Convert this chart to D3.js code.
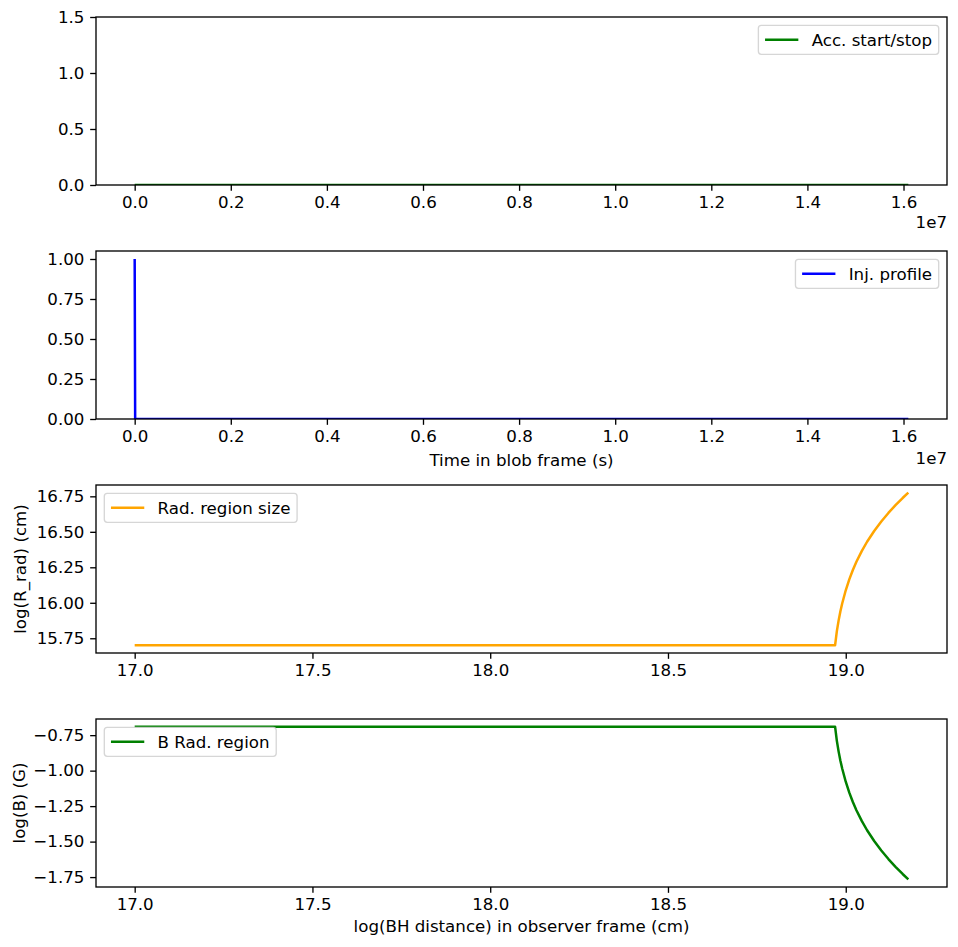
<!DOCTYPE html>
<html><head><meta charset="utf-8">
<script src="https://cdn.jsdelivr.net/npm/d3@7"></script>
<style>
body{margin:0;background:#fff}
text{font-family:"DejaVu Sans",sans-serif;fill:#000}
</style>
</head><body>
<svg id="c" width="958" height="947"></svg>
<script>
// ---- data ----
const accTime = [0, 16100000];
const accStartStop = [0, 0];

const injTime = [0, 10000, 16100000];
const injProfile = [1, 0, 0];

const logDist = [17.0, 18.97, 18.975, 18.98, 18.985, 18.99, 19.0, 19.01, 19.02, 19.03, 19.045, 19.06, 19.08, 19.10, 19.12, 19.14, 19.16, 19.176];
const logRrad = [15.70, 15.70, 15.800, 15.876, 15.940, 15.995, 16.088, 16.165, 16.231, 16.289, 16.364, 16.430, 16.506, 16.573, 16.633, 16.688, 16.738, 16.776];
const logB    = [-0.69, -0.69, -0.790, -0.866, -0.930, -0.985, -1.078, -1.155, -1.221, -1.279, -1.354, -1.420, -1.496, -1.563, -1.623, -1.678, -1.728, -1.766];

// ---- ticks ----
const timeTickVals = [0, 2e6, 4e6, 6e6, 8e6, 10e6, 12e6, 14e6, 16e6];
const timeTickLabels = ["0.0","0.2","0.4","0.6","0.8","1.0","1.2","1.4","1.6"];
const accTickVals = [0, 0.5, 1.0, 1.5];
const accTickLabels = ["0.0","0.5","1.0","1.5"];
const injTickVals = [0, 0.25, 0.5, 0.75, 1.0];
const injTickLabels = ["0.00","0.25","0.50","0.75","1.00"];
const distTickVals = [17.0, 17.5, 18.0, 18.5, 19.0];
const distTickLabels = ["17.0","17.5","18.0","18.5","19.0"];
const rTickVals = [15.75, 16.0, 16.25, 16.5, 16.75];
const rTickLabels = ["15.75","16.00","16.25","16.50","16.75"];
const bTickVals = [-0.75, -1.0, -1.25, -1.5, -1.75];
const bTickLabels = ["\u22120.75","\u22121.00","\u22121.25","\u22121.50","\u22121.75"];

// ---- layout ----
const FS = 16.67;
const L = 96, R = 947, PH = 168;
const tops = [17, 251, 485, 719];
const svg = d3.select("#c");

function padDomain(vals){
  const [a,b] = d3.extent(vals); const m = (b-a)*0.05; return [a-m, b+m];
}

function panel(i, cfg){
  const top = tops[i], bot = top + PH;
  const g = svg.append("g");
  const x = d3.scaleLinear().domain(cfg.xd).range([L, R]);
  const y = d3.scaleLinear().domain(cfg.yd).range([bot, top]);
  const cid = "clip" + i;
  svg.append("clipPath").attr("id", cid).append("rect")
    .attr("x", L).attr("y", top).attr("width", R-L).attr("height", PH);
  const pts = cfg.xs.map((v,k)=>[v, cfg.ys[k]]);
  g.append("path").datum(pts)
    .attr("clip-path", `url(#${cid})`)
    .attr("fill","none").attr("stroke", cfg.color).attr("stroke-width", 2.5)
    .attr("stroke-linejoin","round").attr("stroke-linecap","butt")
    .attr("d", d3.line().x(d=>x(d[0])).y(d=>y(d[1])));

  const ax = g.append("g").attr("transform", `translate(0,${bot})`)
    .call(d3.axisBottom(x).tickValues(cfg.xt).tickFormat((d,k)=>cfg.xl[k]).tickSize(5.83).tickPadding(5.8));
  const ay = g.append("g").attr("transform", `translate(${L},0)`)
    .call(d3.axisLeft(y).tickValues(cfg.yt).tickFormat((d,k)=>cfg.yl[k]).tickSize(5.83).tickPadding(5.8));
  [ax, ay].forEach(a=>{
    a.select(".domain").remove();
    a.selectAll(".tick line").attr("stroke","#000").attr("stroke-width",1.33);
    a.selectAll(".tick text").attr("font-size", FS).attr("font-family","DejaVu Sans").attr("fill","#000");
  });
  g.append("rect").attr("x", L).attr("y", top).attr("width", R-L).attr("height", PH)
    .attr("fill","none").attr("stroke","#000").attr("stroke-width",1.33);

  // legend
  const lg = g.append("g");
  const t = lg.append("text").attr("font-size", FS).text(cfg.label);
  const tw = t.node().getComputedTextLength();
  const pad = 6.67, hl = 33.3, htp = 13.3, bh = 29;
  const bw = pad + hl + htp + tw + pad;
  const bx = cfg.legendRight ? R - 8.3 - bw : L + 8.3;
  const by = top + 8.3;
  lg.insert("rect","text").attr("x", bx).attr("y", by).attr("width", bw).attr("height", bh)
    .attr("rx", 3).attr("fill","#fff").attr("fill-opacity",0.8)
    .attr("stroke","#cccccc").attr("stroke-opacity",0.8).attr("stroke-width",1.33);
  const cy = by + bh/2;
  lg.append("line").attr("x1", bx+pad).attr("x2", bx+pad+hl).attr("y1", cy).attr("y2", cy)
    .attr("stroke", cfg.color).attr("stroke-width", 2.5);
  t.attr("x", bx+pad+hl+htp).attr("y", cy + 5.9);
  return {x, y, top, bot};
}

panel(0, {xd: padDomain(accTime), yd:[0,1.5], xs: accTime, ys: accStartStop, color:"green",
  xt: timeTickVals, xl: timeTickLabels, yt: accTickVals, yl: accTickLabels,
  label:"Acc. start/stop", legendRight:true});
panel(1, {xd: padDomain(injTime), yd:[0, d3.max(injProfile)*1.05], xs: injTime, ys: injProfile, color:"blue",
  xt: timeTickVals, xl: timeTickLabels, yt: injTickVals, yl: injTickLabels,
  label:"Inj. profile", legendRight:true});
panel(2, {xd: padDomain(logDist), yd: padDomain(logRrad), xs: logDist, ys: logRrad, color:"orange",
  xt: distTickVals, xl: distTickLabels, yt: rTickVals, yl: rTickLabels,
  label:"Rad. region size", legendRight:false});
panel(3, {xd: padDomain(logDist), yd: padDomain(logB), xs: logDist, ys: logB, color:"green",
  xt: distTickVals, xl: distTickLabels, yt: bTickVals, yl: bTickLabels,
  label:"B Rad. region", legendRight:false});

// offset texts & labels
svg.append("text").attr("x", R).attr("y", 227.5).attr("text-anchor","end").attr("font-size",FS).text("1e7");
svg.append("text").attr("x", R).attr("y", 464).attr("text-anchor","end").attr("font-size",FS).text("1e7");
svg.append("text").attr("x", (L+R)/2).attr("y", 465.5).attr("text-anchor","middle").attr("font-size",FS).text("Time in blob frame (s)");
svg.append("text").attr("x", (L+R)/2).attr("y", 932).attr("text-anchor","middle").attr("font-size",FS).text("log(BH distance) in observer frame (cm)");
svg.append("text").attr("transform",`translate(26,${tops[2]+PH/2}) rotate(-90)`).attr("text-anchor","middle").attr("font-size",FS).text("log(R_rad) (cm)");
svg.append("text").attr("transform",`translate(24.5,${tops[3]+PH/2}) rotate(-90)`).attr("text-anchor","middle").attr("font-size",FS).text("log(B) (G)");
</script>
</body></html>
